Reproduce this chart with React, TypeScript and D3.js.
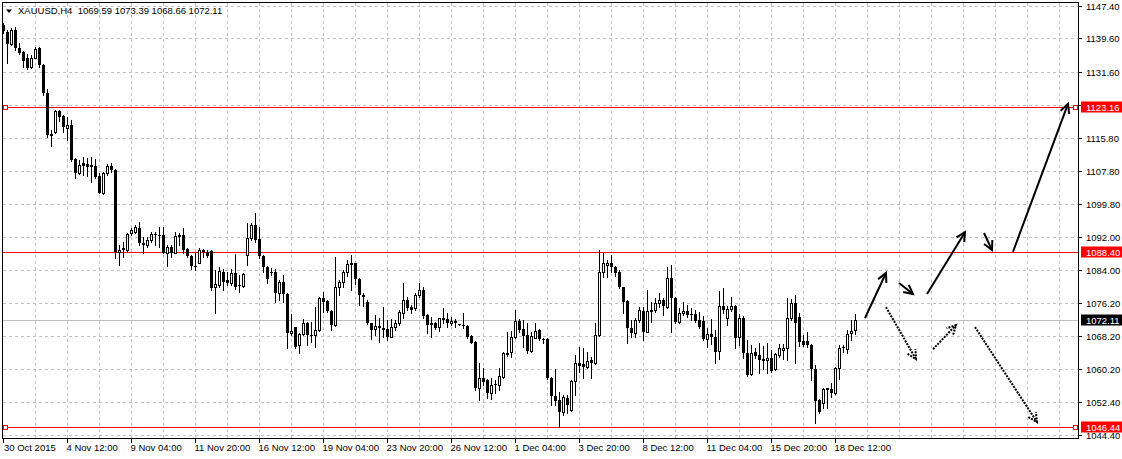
import React from 'react';
import * as d3 from 'd3';

const symbolTitle = 'XAUUSD,H4';
const headerValues = ['1069.59', '1073.39', '1068.66', '1072.11'];

// H4 candles, 30 Oct 2015 20:00 onwards
const OPEN = [
  1142.8, 1141.2, 1138.2, 1141.6, 1137.2, 1136.3, 1134.8, 1132.8, 1135.0, 1137.2,
  1133.2, 1126.6, 1116.6, 1117.1, 1122.2, 1121.0, 1118.2, 1118.8, 1110.6, 1107.2,
  1109.6, 1109.5, 1109.2, 1109.1, 1106.6, 1102.4, 1107.2, 1109.1, 1108.0, 1088.3,
  1089.2, 1088.7, 1092.8, 1093.2, 1094.2, 1090.6, 1089.9, 1091.1, 1092.7, 1092.5,
  1092.3, 1088.2, 1089.5, 1088.2, 1092.4, 1092.4, 1089.0, 1087.4, 1085.0, 1085.8,
  1088.8, 1088.4, 1088.6, 1079.9, 1080.4, 1083.6, 1081.5, 1081.0, 1083.2, 1080.4,
  1080.2, 1087.6, 1091.6, 1094.8, 1091.4, 1087.4, 1084.7, 1083.6, 1083.6, 1078.4,
  1081.2, 1078.2, 1068.8, 1070.3, 1065.9, 1068.6, 1071.2, 1068.4, 1068.3, 1069.6,
  1077.2, 1076.6, 1074.2, 1070.8, 1080.0, 1081.1, 1083.5, 1085.6, 1085.6, 1081.8,
  1078.0, 1076.4, 1071.2, 1069.8, 1070.6, 1070.0, 1069.8, 1068.0, 1070.4, 1071.2,
  1073.6, 1076.8, 1075.1, 1074.8, 1078.0, 1079.1, 1073.2, 1071.2, 1071.2, 1070.4,
  1072.4, 1072.2, 1071.2, 1071.8, 1071.0, 1070.9, 1070.6, 1068.2, 1066.8, 1055.6,
  1058.0, 1057.6, 1054.6, 1056.6, 1056.4, 1058.4, 1064.2, 1064.4, 1067.9, 1071.8,
  1069.8, 1068.4, 1064.6, 1067.8, 1069.6, 1067.4, 1067.4, 1058.2, 1053.8, 1052.8,
  1050.0, 1053.4, 1050.4, 1057.4, 1061.6, 1061.4, 1060.8, 1062.4, 1061.6, 1068.4,
  1083.6, 1085.1, 1085.8, 1084.7, 1083.6, 1079.9, 1076.6, 1070.0, 1068.8, 1072.0,
  1074.2, 1069.2, 1074.3, 1074.3, 1076.2, 1076.8, 1075.2, 1082.0, 1077.2, 1071.6,
  1073.6, 1074.2, 1073.4, 1073.4, 1072.0, 1071.8, 1067.4, 1068.6, 1068.0, 1064.6,
  1075.4, 1072.4, 1074.6, 1075.4, 1068.0, 1072.6, 1064.2, 1059.0, 1064.4, 1063.6,
  1062.6, 1062.4, 1063.0, 1060.2, 1063.6, 1064.8, 1065.2, 1072.4, 1076.0, 1072.8,
  1067.0, 1067.0, 1066.0, 1060.2, 1052.8, 1052.2, 1055.6, 1055.4, 1054.6, 1060.6,
  1065.6, 1065.0, 1068.8, 1069.59,
];
const HIGH = [
  1143.2, 1141.6, 1142.0, 1142.4, 1138.4, 1136.6, 1135.8, 1135.6, 1137.6, 1137.6,
  1133.5, 1127.4, 1117.6, 1122.4, 1122.4, 1121.2, 1120.8, 1120.0, 1110.8, 1110.4,
  1111.2, 1110.8, 1111.2, 1110.6, 1107.2, 1107.6, 1109.5, 1109.8, 1108.2, 1090.0,
  1090.8, 1092.8, 1094.0, 1094.8, 1095.6, 1091.9, 1091.9, 1093.2, 1093.2, 1094.4,
  1094.4, 1090.0, 1090.0, 1093.2, 1093.0, 1094.0, 1089.2, 1087.6, 1088.0, 1089.2,
  1089.0, 1088.7, 1088.8, 1084.0, 1084.8, 1084.2, 1083.6, 1084.2, 1087.9, 1082.8,
  1083.2, 1095.2, 1095.2, 1097.6, 1094.3, 1087.6, 1085.0, 1084.4, 1084.2, 1081.6,
  1082.8, 1078.4, 1073.4, 1070.4, 1068.8, 1072.2, 1071.6, 1071.6, 1075.2, 1077.5,
  1078.8, 1076.8, 1074.4, 1087.2, 1081.6, 1083.9, 1086.3, 1087.6, 1085.8, 1082.0,
  1078.4, 1076.7, 1071.4, 1073.2, 1072.4, 1075.2, 1072.0, 1072.2, 1072.0, 1074.4,
  1081.0, 1077.6, 1075.6, 1078.4, 1080.8, 1080.0, 1073.5, 1072.8, 1071.6, 1072.6,
  1074.8, 1073.6, 1072.8, 1072.2, 1071.1, 1073.6, 1070.8, 1068.4, 1067.0, 1061.6,
  1060.4, 1057.8, 1058.0, 1057.6, 1060.4, 1064.4, 1069.2, 1069.4, 1074.4, 1072.2,
  1072.0, 1071.2, 1069.2, 1071.2, 1069.8, 1067.6, 1067.6, 1058.4, 1060.2, 1054.8,
  1054.0, 1054.0, 1057.6, 1063.6, 1065.6, 1065.2, 1064.4, 1063.2, 1071.2, 1088.8,
  1088.0, 1086.4, 1087.6, 1085.0, 1083.9, 1080.0, 1076.8, 1072.0, 1072.4, 1075.2,
  1075.2, 1079.2, 1076.4, 1077.2, 1078.4, 1077.2, 1084.8, 1085.2, 1077.6, 1074.8,
  1076.4, 1075.6, 1074.8, 1074.4, 1074.0, 1073.0, 1070.2, 1072.2, 1069.6, 1079.0,
  1079.6, 1075.4, 1077.6, 1075.6, 1073.4, 1073.0, 1067.2, 1066.0, 1065.2, 1066.6,
  1065.8, 1066.4, 1064.8, 1064.0, 1066.2, 1066.2, 1077.2, 1077.0, 1078.0, 1073.6,
  1068.4, 1069.2, 1066.2, 1061.2, 1053.0, 1055.8, 1055.8, 1056.8, 1060.8, 1066.0,
  1066.0, 1069.6, 1072.0, 1073.39,
];
const LOW = [
  1140.8, 1133.6, 1138.0, 1136.8, 1135.8, 1132.8, 1132.3, 1132.4, 1134.8, 1132.8,
  1126.0, 1116.0, 1113.9, 1116.8, 1119.9, 1117.2, 1115.2, 1110.3, 1106.0, 1107.1,
  1106.8, 1106.6, 1105.2, 1106.2, 1102.4, 1102.3, 1106.8, 1107.6, 1086.8, 1085.2,
  1087.2, 1088.4, 1092.4, 1092.8, 1090.0, 1088.0, 1089.6, 1090.8, 1090.0, 1089.5,
  1088.0, 1085.0, 1087.2, 1088.0, 1090.0, 1088.0, 1087.2, 1084.2, 1084.0, 1085.6,
  1087.2, 1087.2, 1079.2, 1073.8, 1080.0, 1079.1, 1080.4, 1080.4, 1079.5, 1078.8,
  1080.0, 1085.2, 1091.2, 1090.8, 1086.8, 1083.6, 1080.8, 1082.8, 1076.4, 1076.8,
  1076.4, 1065.2, 1068.4, 1065.2, 1064.0, 1068.4, 1066.0, 1066.8, 1065.6, 1069.4,
  1074.0, 1074.0, 1069.6, 1070.6, 1078.0, 1080.0, 1082.6, 1079.2, 1080.7, 1075.6,
  1075.4, 1071.1, 1067.4, 1068.4, 1066.8, 1068.0, 1067.2, 1067.9, 1069.6, 1070.8,
  1072.4, 1074.3, 1073.6, 1074.4, 1077.5, 1072.4, 1068.8, 1067.9, 1069.8, 1069.4,
  1071.2, 1070.4, 1070.8, 1070.4, 1070.8, 1070.0, 1067.8, 1066.4, 1055.2, 1052.8,
  1056.4, 1053.2, 1053.0, 1054.4, 1055.2, 1058.2, 1063.4, 1063.2, 1067.6, 1069.2,
  1065.6, 1064.0, 1064.4, 1067.6, 1067.2, 1066.4, 1057.8, 1051.6, 1051.6, 1046.4,
  1049.2, 1049.8, 1050.2, 1054.0, 1059.6, 1058.0, 1060.4, 1058.0, 1061.4, 1068.2,
  1082.4, 1082.4, 1083.6, 1082.6, 1079.6, 1073.6, 1066.4, 1067.9, 1067.9, 1071.6,
  1067.2, 1069.1, 1071.6, 1074.0, 1075.2, 1073.2, 1074.8, 1069.2, 1071.2, 1071.4,
  1073.2, 1072.8, 1072.0, 1071.6, 1070.2, 1067.2, 1065.6, 1066.2, 1061.8, 1062.6,
  1073.6, 1070.8, 1074.2, 1065.4, 1066.0, 1063.0, 1058.6, 1058.8, 1062.8, 1059.4,
  1060.2, 1059.2, 1059.6, 1060.0, 1063.2, 1062.6, 1062.4, 1072.0, 1061.6, 1065.8,
  1065.8, 1065.6, 1057.6, 1047.4, 1049.8, 1050.8, 1051.0, 1053.6, 1054.2, 1057.8,
  1064.4, 1064.2, 1067.2, 1068.66,
];
const CLOSE = [
  1141.4, 1138.2, 1141.6, 1137.2, 1136.0, 1134.2, 1132.4, 1135.0, 1137.0, 1133.2,
  1126.6, 1116.4, 1116.2, 1122.2, 1120.8, 1118.4, 1118.8, 1110.4, 1107.2, 1109.2,
  1109.1, 1108.8, 1108.8, 1106.4, 1102.6, 1107.2, 1109.1, 1108.0, 1088.4, 1088.8,
  1088.8, 1092.6, 1093.6, 1094.4, 1090.4, 1090.0, 1091.1, 1092.7, 1092.3, 1092.2,
  1088.2, 1089.5, 1088.2, 1092.2, 1092.0, 1088.8, 1087.4, 1085.0, 1084.8, 1088.7,
  1088.3, 1087.4, 1079.6, 1080.6, 1083.8, 1081.2, 1081.0, 1083.2, 1080.0, 1080.2,
  1083.0, 1091.6, 1094.8, 1091.2, 1087.4, 1084.7, 1081.8, 1083.2, 1078.4, 1081.2,
  1078.2, 1068.8, 1069.4, 1065.6, 1068.6, 1071.2, 1068.3, 1068.2, 1069.6, 1077.2,
  1076.4, 1074.2, 1070.8, 1079.9, 1081.2, 1083.5, 1085.5, 1085.3, 1081.8, 1078.0,
  1077.6, 1071.2, 1069.6, 1070.6, 1070.2, 1069.6, 1068.0, 1070.4, 1071.2, 1074.0,
  1076.8, 1075.0, 1074.3, 1078.0, 1079.1, 1073.0, 1070.8, 1070.9, 1070.0, 1072.4,
  1072.0, 1071.2, 1071.8, 1071.4, 1070.9, 1070.6, 1068.0, 1066.6, 1055.6, 1058.0,
  1057.2, 1054.6, 1056.4, 1056.3, 1058.6, 1064.2, 1063.6, 1068.0, 1071.8, 1069.6,
  1068.2, 1064.6, 1068.2, 1069.4, 1067.4, 1067.2, 1058.0, 1053.8, 1052.6, 1050.0,
  1053.6, 1051.6, 1057.4, 1061.6, 1061.0, 1060.8, 1062.2, 1061.6, 1068.4, 1083.6,
  1085.6, 1085.6, 1084.7, 1083.4, 1079.9, 1076.4, 1070.0, 1068.8, 1072.0, 1074.4,
  1069.2, 1074.2, 1073.9, 1076.2, 1076.8, 1075.4, 1082.0, 1077.2, 1071.6, 1073.8,
  1074.2, 1073.2, 1073.1, 1071.8, 1070.4, 1067.4, 1068.6, 1068.0, 1064.4, 1075.4,
  1074.3, 1074.6, 1075.4, 1067.8, 1072.6, 1064.0, 1058.8, 1064.2, 1063.4, 1062.4,
  1062.2, 1063.0, 1059.8, 1063.8, 1065.2, 1065.2, 1072.6, 1076.0, 1071.4, 1066.8,
  1066.0, 1066.0, 1060.2, 1052.6, 1050.0, 1055.4, 1055.2, 1054.6, 1060.6, 1065.4,
  1065.4, 1068.7, 1069.4, 1072.11,
];

// time labels, one every 16 bars
const timeLabels = [
  '30 Oct 2015', '4 Nov 12:00', '9 Nov 04:00', '11 Nov 20:00', '16 Nov 12:00',
  '19 Nov 04:00', '23 Nov 20:00', '26 Nov 12:00', '1 Dec 04:00', '3 Dec 20:00',
  '8 Dec 12:00', '11 Dec 04:00', '15 Dec 20:00', '18 Dec 12:00',
];
const barsPerLabel = 16;
const barsPerGrid = 8;

const priceTicks = [
  1147.40, 1139.60, 1131.60, 1123.60, 1115.80, 1107.80, 1099.80, 1092.00,
  1084.00, 1076.20, 1068.20, 1060.20, 1052.40, 1044.40,
];
const hiddenTickLabels = [1123.60];

const levelPrices = [1123.16, 1088.40, 1046.44];
const levelMarkers = [true, false, true];
const lastPrice = 1072.11;

// forecast arrows: [fromBar, fromPrice, toBar, toPrice]
const solidArrows = [
  [215.5, 1072.5, 220.75, 1083.3],
  [224, 1080.9, 227.5, 1078.25],
  [231, 1078.25, 240.5, 1093.1],
  [245.25, 1092.9, 247.25, 1088.8],
  [252.5, 1088.4, 266.25, 1123.9],
];
const dottedArrows = [
  [220.75, 1075.1, 228.25, 1062.6],
  [232.5, 1065.0, 238.25, 1070.8],
  [243, 1070.3, 258.5, 1047.5],
];

const W = 1122;
const H = 459;
const L = 2.5, R = 1078.5, T = 2.5, B = 438.5;
const FONT = "'Liberation Sans', Arial, sans-serif";

export default function App() {
  React.useEffect(() => {
    document.body.style.margin = '0';
  }, []);

  const x = d3.scaleLinear().domain([0, 268.75]).range([3, 1078]);
  const y = d3.scaleLinear().domain([1044.40, 1147.40]).range([435, 6]);
  const py = (p: number) => Math.round(y(p)) + 0.5;

  const nGrid = Math.floor(268 / barsPerGrid);
  const gridBars = d3.range(1, nGrid + 1).map((k) => k * barsPerGrid);

  const candles = OPEN.map((o, i) => {
    const c = CLOSE[i];
    const hi = HIGH[i];
    const lo = LOW[i];
    const cx = Math.round(x(i));
    const yTop = Math.round(y(Math.max(o, c)));
    const yBot = Math.round(y(Math.min(o, c)));
    const yH = Math.round(y(hi));
    const yL = Math.round(y(lo));
    const bull = c > o;
    const bodyH = yBot - yTop;
    return (
      <g key={i}>
        <line x1={cx + 0.5} x2={cx + 0.5} y1={yH} y2={yL + 1} stroke="#000" strokeWidth={1} />
        {bodyH < 1 ? (
          <rect x={cx - 1} y={yTop} width={3} height={1} fill="#000" />
        ) : bull ? (
          <rect x={cx - 0.5} y={yTop + 0.5} width={2} height={Math.max(bodyH, 1)} fill="#fff" stroke="#000" strokeWidth={1} />
        ) : (
          <rect x={cx - 1} y={yTop} width={3} height={Math.max(bodyH, 1)} fill="#000" />
        )}
      </g>
    );
  });

  const arrowEl = (a: number[], k: string, dotted: boolean) => {
    const x1 = x(a[0]), y1 = y(a[1]), x2 = x(a[2]), y2 = y(a[3]);
    const ang = Math.atan2(y2 - y1, x2 - x1);
    const len = 10;
    const spread = (27 * Math.PI) / 180;
    const h1 = [x2 - len * Math.cos(ang - spread), y2 - len * Math.sin(ang - spread)];
    const h2 = [x2 - len * Math.cos(ang + spread), y2 - len * Math.sin(ang + spread)];
    const dash = dotted ? '2,1.2' : undefined;
    return (
      <g key={k} stroke="#000" strokeWidth={2} fill="none" strokeDasharray={dash}>
        <line x1={x1} y1={y1} x2={x2} y2={y2} />
        <polyline points={`${h1[0]},${h1[1]} ${x2},${y2} ${h2[0]},${h2[1]}`} />
      </g>
    );
  };

  return (
    <svg width={W} height={H} style={{ position: 'absolute', left: 0, top: 0, background: '#fff' }}
      fontFamily={FONT}>
      <rect x={0} y={0} width={W} height={H} fill="#fff" />
      <defs>
        <clipPath id="plot">
          <rect x={L + 0.5} y={T + 0.5} width={R - L - 1} height={B - T - 1} />
        </clipPath>
      </defs>

      {/* grid */}
      <g stroke="#c0c0c0" strokeWidth={1} strokeDasharray="3,3" shapeRendering="crispEdges">
        {priceTicks.map((p) => (
          <line key={'h' + p} x1={L} x2={R} y1={py(p)} y2={py(p)} />
        ))}
        {gridBars.map((b) => (
          <line key={'v' + b} x1={Math.round(x(b)) + 0.5} x2={Math.round(x(b)) + 0.5} y1={T} y2={B} />
        ))}
      </g>

      {/* current price line */}
      <line x1={L} x2={R} y1={py(lastPrice)} y2={py(lastPrice)} stroke="#c0c0c0" strokeWidth={1} shapeRendering="crispEdges" />

      {/* level lines */}
      {levelPrices.map((p, i) => (
        <g key={'lv' + i}>
          <line x1={L} x2={R} y1={py(p)} y2={py(p)} stroke="#ff0000" strokeWidth={1} shapeRendering="crispEdges" />
          {levelMarkers[i] && (
            <g fill="#fff" stroke="#ff0000" strokeWidth={1} shapeRendering="crispEdges">
              <rect x={3.5} y={py(p) - 2} width={4} height={4} />
              <rect x={1073.5} y={py(p) - 2} width={4} height={4} />
            </g>
          )}
        </g>
      ))}

      {/* candles */}
      <g clipPath="url(#plot)" shapeRendering="crispEdges">{candles}</g>

      {/* arrows */}
      <g>
        {solidArrows.map((a, i) => arrowEl(a, 's' + i, false))}
        {dottedArrows.map((a, i) => arrowEl(a, 'd' + i, true))}
      </g>

      {/* frame */}
      <rect x={L} y={T} width={R - L} height={B - T} fill="none" stroke="#000" strokeWidth={1} />

      {/* header */}
      <path d="M6,9.5 L12,9.5 L9,13 Z" fill="#000" />
      <text x={18} y={14} fontSize={9.5} fill="#000">
        {symbolTitle + '\u00a0\u00a0' + headerValues.join(' ')}
      </text>

      {/* price axis */}
      <g fontSize={9.5} fill="#000">
        {priceTicks.map((p) => (
          <g key={'pt' + p}>
            <line x1={R} x2={R + 3} y1={py(p)} y2={py(p)} stroke="#000" shapeRendering="crispEdges" />
            {!hiddenTickLabels.includes(p) && (
              <text x={1086} y={py(p) + 3.5}>{p.toFixed(2)}</text>
            )}
          </g>
        ))}
      </g>
      {levelPrices.map((p, i) => (
        <g key={'ll' + i}>
          <rect x={1081} y={py(p) - 6} width={41} height={11} fill="#ff0000" />
          <text x={1086} y={py(p) + 3.5} fontSize={9.5} fill="#fff">{p.toFixed(2)}</text>
        </g>
      ))}
      <rect x={1081} y={py(lastPrice) - 6} width={41} height={11} fill="#000" />
      <text x={1086} y={py(lastPrice) + 3.5} fontSize={9.5} fill="#fff">{lastPrice.toFixed(2)}</text>

      {/* time axis */}
      <g fontSize={9.5} fill="#000">
        {timeLabels.map((t, k) => {
          const bx = Math.round(x(k * barsPerLabel)) + 0.5;
          return (
            <g key={'t' + k}>
              <line x1={bx} x2={bx} y1={B} y2={B + 4} stroke="#000" shapeRendering="crispEdges" />
              <text x={Math.max(4, bx - 1)} y={451}>{t}</text>
            </g>
          );
        })}
      </g>
    </svg>
  );
}
